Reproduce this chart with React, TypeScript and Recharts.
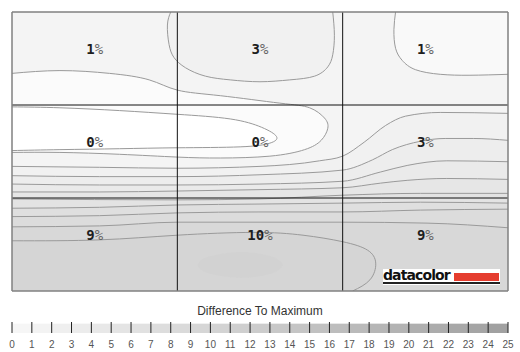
import React from 'react';
import {
  ComposedChart,
  Area,
  Scatter,
  XAxis,
  YAxis,
  CartesianGrid,
  ReferenceLine,
} from 'recharts';

// panel space: x 0..3 (columns, left to right), y 0..3 (rows, bottom to top)
const colCenters = [0.5, 1.5, 2.5];
const rowCenters = [2.5, 1.5, 0.5];
const cellValues = [
  [1, 3, 1],
  [0, 0, 3],
  [9, 10, 9],
];

// closed regions hanging from the top edge
const topMiddleBlob = [
  { x: 0.96, y: 3.0 }, { x: 0.94, y: 2.86 }, { x: 0.95, y: 2.65 }, { x: 0.98, y: 2.51 },
  { x: 1.05, y: 2.4 }, { x: 1.17, y: 2.31 }, { x: 1.32, y: 2.27 }, { x: 1.5, y: 2.25 },
  { x: 1.68, y: 2.27 }, { x: 1.83, y: 2.31 }, { x: 1.91, y: 2.41 }, { x: 1.94, y: 2.54 },
  { x: 1.95, y: 2.75 }, { x: 1.94, y: 3.0 },
];
const topRightBlob = [
  { x: 2.32, y: 3.0 }, { x: 2.31, y: 2.81 }, { x: 2.32, y: 2.61 }, { x: 2.36, y: 2.48 },
  { x: 2.44, y: 2.38 }, { x: 2.59, y: 2.33 }, { x: 2.77, y: 2.32 }, { x: 3.0, y: 2.33 },
];

// loops leaving and returning to the left edge (the 0% area)
const zeroOuter = [
  { x: 0, y: 2.34 }, { x: 0.29, y: 2.37 }, { x: 0.59, y: 2.34 }, { x: 0.83, y: 2.27 },
  { x: 1.0, y: 2.16 }, { x: 1.26, y: 2.1 }, { x: 1.62, y: 2.02 }, { x: 1.8, y: 1.97 },
  { x: 1.89, y: 1.86 }, { x: 1.91, y: 1.75 }, { x: 1.87, y: 1.62 }, { x: 1.77, y: 1.52 },
  { x: 1.56, y: 1.45 }, { x: 1.26, y: 1.43 }, { x: 1.0, y: 1.44 }, { x: 0.65, y: 1.47 },
  { x: 0.29, y: 1.49 }, { x: 0, y: 1.49 },
];
const zeroInner = [
  { x: 0, y: 1.98 }, { x: 0.29, y: 1.97 }, { x: 0.65, y: 1.94 }, { x: 1.0, y: 1.9 },
  { x: 1.32, y: 1.85 }, { x: 1.51, y: 1.76 }, { x: 1.6, y: 1.66 }, { x: 1.56, y: 1.59 },
  { x: 1.38, y: 1.55 }, { x: 1.0, y: 1.54 }, { x: 0.65, y: 1.53 }, { x: 0.29, y: 1.52 },
  { x: 0, y: 1.51 },
];

// contour lines crossing the panel, top to bottom
const line1 = [
  { x: 0, y: 1.34 }, { x: 0.53, y: 1.33 }, { x: 1.0, y: 1.32 }, { x: 1.5, y: 1.34 },
  { x: 1.86, y: 1.4 }, { x: 2.0, y: 1.45 }, { x: 2.13, y: 1.6 }, { x: 2.26, y: 1.78 },
  { x: 2.38, y: 1.88 }, { x: 2.59, y: 1.92 }, { x: 3.0, y: 1.91 },
];
const line2 = [
  { x: 0, y: 1.24 }, { x: 0.53, y: 1.23 }, { x: 1.0, y: 1.23 }, { x: 1.5, y: 1.25 },
  { x: 2.0, y: 1.3 }, { x: 2.18, y: 1.41 }, { x: 2.3, y: 1.52 }, { x: 2.47, y: 1.61 },
  { x: 2.62, y: 1.64 }, { x: 2.79, y: 1.64 }, { x: 3.0, y: 1.62 },
];
const line3 = [
  { x: 0, y: 1.15 }, { x: 0.53, y: 1.14 }, { x: 1.0, y: 1.14 }, { x: 1.5, y: 1.15 },
  { x: 2.0, y: 1.18 }, { x: 2.23, y: 1.28 }, { x: 2.39, y: 1.35 }, { x: 2.63, y: 1.4 },
  { x: 3.0, y: 1.39 },
];
const line4 = [
  { x: 0, y: 1.065 }, { x: 0.53, y: 1.065 }, { x: 1.0, y: 1.075 }, { x: 1.5, y: 1.09 },
  { x: 2.0, y: 1.11 }, { x: 2.23, y: 1.16 }, { x: 2.39, y: 1.19 }, { x: 2.63, y: 1.21 },
  { x: 3.0, y: 1.2 },
];
const line5 = [
  { x: 0, y: 0.99 }, { x: 1.0, y: 0.98 }, { x: 1.5, y: 0.99 }, { x: 2.0, y: 1.03 },
  { x: 2.47, y: 1.05 }, { x: 3.0, y: 1.05 },
];
const line6 = [
  { x: 0, y: 0.89 }, { x: 0.53, y: 0.9 }, { x: 1.0, y: 0.925 }, { x: 1.5, y: 0.935 },
  { x: 2.0, y: 0.945 }, { x: 2.47, y: 0.955 }, { x: 3.0, y: 0.945 },
];
const line7 = [
  { x: 0, y: 0.8 }, { x: 0.53, y: 0.81 }, { x: 1.0, y: 0.84 }, { x: 1.5, y: 0.85 },
  { x: 2.0, y: 0.85 }, { x: 2.47, y: 0.87 }, { x: 3.0, y: 0.88 },
];
const line8 = [
  { x: 0, y: 0.69 }, { x: 0.53, y: 0.7 }, { x: 1.0, y: 0.74 }, { x: 1.5, y: 0.74 },
  { x: 2.0, y: 0.74 }, { x: 2.51, y: 0.73 }, { x: 3.0, y: 0.68 },
];
const line9 = [
  { x: 0, y: 0.54 }, { x: 0.53, y: 0.55 }, { x: 1.0, y: 0.6 }, { x: 1.46, y: 0.63 },
  { x: 1.76, y: 0.6 }, { x: 2.0, y: 0.53 }, { x: 2.15, y: 0.44 }, { x: 2.2, y: 0.3 },
  { x: 2.165, y: 0.12 }, { x: 2.06, y: 0 },
];
const bandLines = [line1, line2, line3, line4, line5, line6, line7, line8, line9];
const bandLevels = [2, 3, 4, 5, 6, 7, 8, 9, 10];

// faint darker spot in the bottom middle cell
const darkSpot = [
  { x: 1.12, r: [0.28, 0.28] }, { x: 1.16, r: [0.21, 0.35] }, { x: 1.24, r: [0.17, 0.39] },
  { x: 1.31, r: [0.15, 0.41] }, { x: 1.38, r: [0.14, 0.42] }, { x: 1.46, r: [0.15, 0.41] },
  { x: 1.53, r: [0.17, 0.39] }, { x: 1.6, r: [0.21, 0.35] }, { x: 1.64, r: [0.28, 0.28] },
];

const scaleTicks = [0, 1, 2, 3, 4, 5, 6, 7, 8, 9, 10, 11, 12, 13, 14, 15, 16, 17, 18, 19, 20, 21, 22, 23, 24, 25];
const scaleBands = scaleTicks.slice(0, -1).map((t) => [
  { x: t, y: 0.85 },
  { x: t + 1, y: 0.85 },
]);

const shade = (level: number) => {
  const g = Math.round(248 - 3.55 * level);
  return `rgb(${g},${g},${g})`;
};

const cellLabels = rowCenters.flatMap((y, r) =>
  colCenters.map((x, c) => ({ x, y, v: cellValues[r][c] }))
);

const lineColor = '#9a9a9a';

const CellLabel = (props: any) => {
  const { cx, cy, payload } = props;
  return (
    <text
      x={cx}
      y={cy - 10}
      textAnchor="middle"
      dominantBaseline="central"
      style={{ fontFamily: '"DejaVu Sans Mono", monospace', fontSize: 14 }}
    >
      <tspan fontWeight="bold" fill="#1e1e1e">{payload.v}</tspan>
      <tspan fill="#666">%</tspan>
    </text>
  );
};

export default function App() {
  return (
    <div style={{ position: 'absolute', left: 0, top: 0, width: 520, height: 352, background: '#fff' }}>
      <ComposedChart width={520} height={300} margin={{ top: 12, right: 12, bottom: 9, left: 12 }}>
        <CartesianGrid fill={shade(1)} horizontal={false} vertical={false} />
        <XAxis type="number" dataKey="x" domain={[0, 3]} hide allowDataOverflow />
        <YAxis type="number" dataKey="y" domain={[0, 3]} hide allowDataOverflow />

        <Area data={topMiddleBlob} dataKey="y" type="natural" baseValue={3} fill={shade(2)} fillOpacity={1}
          stroke={lineColor} strokeWidth={1} dot={false} activeDot={false} isAnimationActive={false} />
        <Area data={topRightBlob} dataKey="y" type="natural" baseValue={3} fill="#f9f9f9" fillOpacity={1}
          stroke={lineColor} strokeWidth={1} dot={false} activeDot={false} isAnimationActive={false} />

        {bandLines.map((pts, i) => (
          <Area key={i} data={pts} dataKey="y" type={i === 8 ? 'natural' : 'monotone'} baseValue={0}
            fill={shade(bandLevels[i])} fillOpacity={1} stroke={lineColor} strokeWidth={1}
            dot={false} activeDot={false} isAnimationActive={false} />
        ))}

        <Area data={darkSpot} dataKey="r" type="natural" fill={shade(11)} fillOpacity={0.6} stroke="none"
          dot={false} activeDot={false} isAnimationActive={false} />

        <Area data={zeroOuter} dataKey="y" type="natural" baseValue={1.75} fill="#fbfbfb" fillOpacity={1}
          stroke={lineColor} strokeWidth={1} dot={false} activeDot={false} isAnimationActive={false} />
        <Area data={zeroInner} dataKey="y" type="natural" baseValue={1.66} fill="#ffffff" fillOpacity={1}
          stroke={lineColor} strokeWidth={1} dot={false} activeDot={false} isAnimationActive={false} />

        {[1, 2].map((v) => (
          <ReferenceLine key={'vx' + v} x={v} stroke="#111" strokeWidth={1} />
        ))}
        {[1, 2].map((v) => (
          <ReferenceLine key={'hy' + v} y={v} stroke="#111" strokeWidth={1} />
        ))}
        {[0, 3].map((v) => (
          <ReferenceLine key={'bx' + v} x={v} stroke="#808080" strokeWidth={1.5} />
        ))}
        {[0, 3].map((v) => (
          <ReferenceLine key={'by' + v} y={v} stroke="#808080" strokeWidth={1.5} />
        ))}

        <Scatter data={cellLabels} dataKey="y" shape={CellLabel} isAnimationActive={false} />
      </ComposedChart>

      <div style={{ position: 'absolute', left: 383, top: 269, width: 117, height: 16, background: '#fff' }}>
        <span style={{ position: 'absolute', left: 0, top: -2, fontFamily: '"DejaVu Sans", sans-serif',
          fontWeight: 'bold', fontSize: 14, color: '#111', letterSpacing: -0.9 }}>datacolor</span>
        <div style={{ position: 'absolute', left: 71, top: 4, width: 45, height: 8, background: '#e53d2f' }} />
        <div style={{ position: 'absolute', left: 0, top: 13, width: 117, height: 2, background: '#222' }} />
      </div>

      <div style={{ position: 'absolute', left: 0, top: 304, width: 520, textAlign: 'center',
        fontFamily: '"Liberation Sans", Arial, sans-serif', fontSize: 12, lineHeight: '14px', color: '#333' }}>
        Difference To Maximum
      </div>

      <div style={{ position: 'absolute', left: 0, top: 300 }}>
        <ComposedChart width={520} height={52} margin={{ top: 22, right: 12, bottom: 0, left: 12 }}>
          <XAxis type="number" dataKey="x" domain={[0, 25]} ticks={scaleTicks} interval={0} axisLine={false}
            tickLine={false} tickSize={0} tickMargin={8} height={19} allowDataOverflow
            tick={{ fontSize: 10, fill: '#555', fontFamily: '"Liberation Sans", Arial, sans-serif' }} />
          <YAxis type="number" dataKey="y" domain={[0, 1]} hide allowDataOverflow />
          {scaleBands.map((pts, i) => (
            <Area key={'b' + i} data={pts} dataKey="y" type="linear" baseValue={0} fill={shade(i + 0.5)}
              fillOpacity={1} stroke="none" dot={false} activeDot={false} isAnimationActive={false} />
          ))}
          {scaleTicks.map((t) => (
            <ReferenceLine key={'t' + t} x={t} stroke="#222" strokeWidth={1} />
          ))}
        </ComposedChart>
      </div>
    </div>
  );
}
